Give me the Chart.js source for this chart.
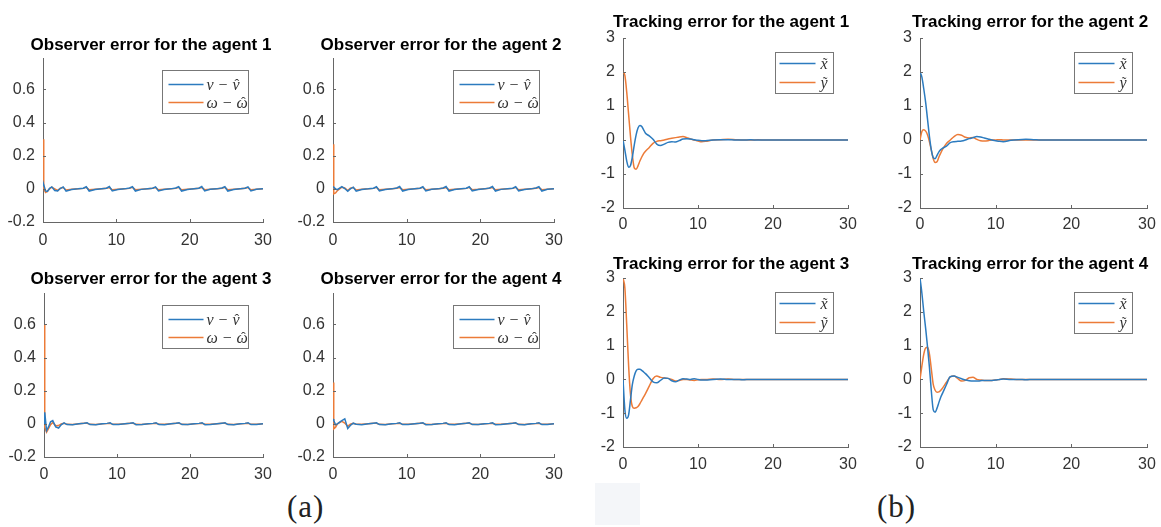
<!DOCTYPE html>
<html>
<head>
<meta charset="utf-8">
<script src="https://cdn.jsdelivr.net/npm/chart.js@4.4.1/dist/chart.umd.min.js"></script>
<style>
  body { margin: 0; background: #fff; width: 1161px; height: 527px; overflow: hidden; position: relative; }
  .panel { position: absolute; }
  .tag { position: absolute; font-family: "Liberation Serif", "DejaVu Serif", serif; font-size: 31px; letter-spacing: 1px; color: #222; line-height: 1; }
  .smudge { position: absolute; left: 595px; top: 483px; width: 45px; height: 42px; background: #f4f6f9; }
</style>
</head>
<body>
<div class="smudge"></div>
<div class="tag" style="left:287px; top:491px;">(a)</div>
<div class="tag" style="left:877px; top:491px;">(b)</div>
<script>
// ---- data ----
const timeTicks = [0, 10, 20, 30];
const obsYTicks = [-0.2, 0, 0.2, 0.4, 0.6];
const trkYTicks = [-2, -1, 0, 1, 2, 3];

const obsTitles = ['Observer error for the agent 1', 'Observer error for the agent 2',
                   'Observer error for the agent 3', 'Observer error for the agent 4'];
const trkTitles = ['Tracking error for the agent 1', 'Tracking error for the agent 2',
                   'Tracking error for the agent 3', 'Tracking error for the agent 4'];
const obsLabels = ['v \u2212 v\u0302', '\u03c9 \u2212 \u03c9\u0302'];
const trkLabels = ['x\u0303', 'y\u0303'];

// observer error time samples
const obsTime = [0, 0.1, 0.35, 0.6, 0.9, 1.2, 1.6, 2.0, 2.35,
  2.75, 3.15, 3.9, 4.8,
  5.5, 5.9, 6.3, 7.1, 8.0,
  8.65, 9.05, 9.45, 10.2, 11.1,
  11.8, 12.2, 12.6, 13.4, 14.3,
  14.95, 15.35, 15.75, 16.5, 17.4,
  18.1, 18.5, 18.9, 19.7, 20.6,
  21.25, 21.65, 22.05, 22.8, 23.7,
  24.4, 24.8, 25.2, 26.0, 26.9,
  27.55, 27.95, 28.35, 29.1, 30];

const obsV1 = [0.02, 0.025, -0.012, -0.015, 0.004, 0.012, -0.01, -0.012, 0.002,
  0.012, -0.014, -0.004, 0.0,
  0.004, 0.013, -0.013, -0.004, 0.001,
  0.004, 0.014, -0.012, -0.004, 0.0,
  0.005, 0.013, -0.013, -0.003, 0.001,
  0.004, 0.012, -0.012, -0.004, 0.0,
  0.005, 0.013, -0.013, -0.004, 0.001,
  0.004, 0.014, -0.012, -0.003, 0.0,
  0.005, 0.013, -0.013, -0.004, 0.001,
  0.004, 0.012, -0.012, -0.003, 0.0];
const obsW1 = [0.3, 0.0, -0.022, -0.015, 0.0, 0.01, 0.0, -0.01, 0.004,
  0.008, -0.007, -0.003, 0.0,
  0.003, 0.009, -0.006, -0.002, 0.001,
  0.003, 0.008, -0.006, -0.003, 0.0,
  0.003, 0.009, -0.005, -0.002, 0.001,
  0.004, 0.008, -0.006, -0.002, 0.0,
  0.003, 0.009, -0.006, -0.003, 0.001,
  0.003, 0.008, -0.005, -0.002, 0.0,
  0.004, 0.009, -0.006, -0.002, 0.001,
  0.003, 0.008, -0.006, -0.002, 0.0];

const obsV2 = [0.015, 0.01, 0.0, -0.005, 0.005, 0.014, 0.002, -0.014, 0.0,
  0.01, -0.014, -0.004, 0.0,
  0.004, 0.013, -0.012, -0.004, 0.0,
  0.005, 0.014, -0.013, -0.004, 0.001,
  0.004, 0.013, -0.012, -0.003, 0.0,
  0.005, 0.014, -0.013, -0.004, 0.001,
  0.004, 0.013, -0.012, -0.004, 0.0,
  0.005, 0.014, -0.013, -0.003, 0.001,
  0.004, 0.013, -0.012, -0.004, 0.0,
  0.005, 0.013, -0.013, -0.003, 0.0];
const obsW2 = [0.27, -0.03, -0.025, -0.01, 0.0, 0.01, 0.005, -0.01, 0.004,
  0.008, -0.007, -0.002, 0.0,
  0.003, 0.009, -0.006, -0.002, 0.001,
  0.003, 0.008, -0.005, -0.003, 0.0,
  0.004, 0.009, -0.006, -0.002, 0.001,
  0.003, 0.008, -0.006, -0.002, 0.0,
  0.003, 0.009, -0.005, -0.003, 0.001,
  0.004, 0.008, -0.006, -0.002, 0.0,
  0.003, 0.009, -0.006, -0.002, 0.001,
  0.003, 0.008, -0.005, -0.002, 0.0];

const obsV3 = [0.0, 0.07, -0.04, -0.02, 0.012, 0.02, -0.018, -0.025, -0.006,
  0.006, -0.004, -0.005, 0.0,
  0.004, 0.007, -0.004, -0.005, 0.0,
  0.003, 0.006, -0.004, -0.004, 0.001,
  0.004, 0.007, -0.005, -0.004, 0.0,
  0.003, 0.006, -0.004, -0.005, 0.001,
  0.004, 0.007, -0.004, -0.004, 0.0,
  0.003, 0.007, -0.005, -0.004, 0.001,
  0.004, 0.006, -0.004, -0.005, 0.0,
  0.003, 0.007, -0.004, -0.004, 0.0];
const obsW3 = [0.6, -0.02, -0.05, -0.03, -0.005, 0.008, -0.012, -0.01, 0.0,
  0.004, -0.003, -0.004, 0.0,
  0.003, 0.004, -0.003, -0.004, 0.0,
  0.002, 0.004, -0.003, -0.003, 0.001,
  0.003, 0.004, -0.003, -0.004, 0.0,
  0.002, 0.004, -0.002, -0.003, 0.001,
  0.003, 0.004, -0.003, -0.004, 0.0,
  0.002, 0.004, -0.003, -0.003, 0.001,
  0.003, 0.004, -0.003, -0.004, 0.0,
  0.002, 0.004, -0.003, -0.003, 0.0];

const obsV4 = [0.03, 0.02, -0.005, 0.0, 0.01, 0.02, 0.03, -0.028, -0.01,
  0.004, -0.002, -0.005, 0.0,
  0.004, 0.006, -0.004, -0.005, 0.0,
  0.003, 0.006, -0.004, -0.004, 0.001,
  0.004, 0.007, -0.005, -0.004, 0.0,
  0.003, 0.006, -0.004, -0.005, 0.001,
  0.004, 0.007, -0.004, -0.004, 0.0,
  0.003, 0.006, -0.005, -0.004, 0.001,
  0.004, 0.007, -0.004, -0.005, 0.0,
  0.003, 0.006, -0.004, -0.004, 0.0];
const obsW4 = [0.25, -0.03, -0.02, 0.0, 0.008, 0.015, 0.005, -0.015, -0.002,
  0.004, -0.003, -0.003, 0.0,
  0.003, 0.004, -0.003, -0.004, 0.0,
  0.002, 0.004, -0.003, -0.003, 0.001,
  0.003, 0.004, -0.003, -0.004, 0.0,
  0.002, 0.004, -0.002, -0.003, 0.001,
  0.003, 0.004, -0.003, -0.004, 0.0,
  0.002, 0.004, -0.003, -0.003, 0.001,
  0.003, 0.004, -0.003, -0.004, 0.0,
  0.002, 0.004, -0.003, -0.003, 0.0];

// tracking error time samples
const trkTime = [0, 0.25, 0.5, 0.75, 1, 1.25, 1.5, 1.75, 2, 2.25, 2.5, 2.75, 3,
  3.5, 4, 4.5, 5, 5.5, 6, 6.5, 7, 7.5, 8, 8.5, 9, 9.5, 10,
  10.5, 11, 12, 13, 14, 15, 16, 17, 18, 19, 20,
  22, 24, 26, 28, 30];

const trkX1 = [0, -0.3, -0.62, -0.8, -0.75, -0.5, -0.15, 0.15, 0.35, 0.43, 0.4, 0.3, 0.2,
  0.12, 0.02, -0.12, -0.16, -0.12, -0.07, -0.05, -0.06, -0.02, 0.03, 0.04, 0.03, 0.01, -0.01,
  -0.02, -0.02, 0.0, 0.01, 0.01, 0.0, 0.0, 0.005, 0.0, 0.0, 0.0,
  0, 0, 0, 0, 0];
const trkY1 = [2.0, 1.9, 1.4, 0.75, 0.1, -0.45, -0.82, -0.86, -0.76, -0.62, -0.5, -0.4, -0.33,
  -0.22, -0.1, -0.04, -0.02, 0.0, 0.03, 0.05, 0.07, 0.09, 0.1, 0.07, 0.03, 0.0, -0.03,
  -0.05, -0.04, 0.0, 0.01, 0.02, 0.01, 0.0, 0.0, 0.005, 0.0, 0.0,
  0, 0, 0, 0, 0];

const trkX2 = [2.0, 1.85, 1.5, 1.1, 0.6, 0.1, -0.3, -0.52, -0.55, -0.45, -0.35, -0.28, -0.24,
  -0.18, -0.08, -0.05, -0.04, -0.03, 0.0, 0.04, 0.07, 0.1, 0.09, 0.06, 0.03, 0.0, -0.02,
  -0.04, -0.05, -0.01, 0.01, 0.02, 0.01, 0.0, 0.0, 0.0, 0.0, 0.0,
  0, 0, 0, 0, 0];
const trkY2 = [0.0, 0.25, 0.3, 0.26, 0.15, -0.05, -0.3, -0.55, -0.66, -0.64, -0.5, -0.38, -0.27,
  -0.1, 0.0, 0.1, 0.16, 0.14, 0.08, 0.06, 0.07, 0.02, -0.02, -0.03, -0.02, 0.0, 0.0,
  0.01, 0.0, 0.0, 0.0, 0.0, 0.0, 0.0, 0.0, 0.0, 0.0, 0.0,
  0, 0, 0, 0, 0];

const trkX3 = [0, -0.9, -1.15, -1.05, -0.6, -0.15, 0.1, 0.25, 0.3, 0.3, 0.27, 0.22, 0.17,
  0.05, -0.07, -0.1, -0.03, 0.04, 0.03, -0.04, -0.07, -0.02, 0.02, 0.01, 0.0, 0.02, 0.0,
  -0.02, -0.02, 0.0, 0.01, 0.0, 0.0, -0.01, 0.0, 0.0, 0.0, 0.0,
  0, 0, 0, 0, 0];
const trkY3 = [3.0, 2.7, 1.6, 0.4, -0.45, -0.8, -0.85, -0.84, -0.8, -0.72, -0.62, -0.52, -0.42,
  -0.2, 0.02, 0.1, 0.06, 0.04, 0.03, 0.0, -0.05, -0.03, 0.0, 0.0, -0.02, -0.03, -0.01,
  0.0, 0.0, 0.01, 0.0, 0.01, 0.0, 0.0, 0.0, 0.0, 0.0, 0.0,
  0, 0, 0, 0, 0];

const trkX4 = [3.0, 2.55, 2.0, 1.5, 0.95, 0.35, -0.35, -0.9, -0.97, -0.85, -0.68, -0.52, -0.4,
  -0.15, 0.08, 0.1, 0.06, 0.02, -0.02, -0.04, -0.05, -0.05, -0.04, -0.03, -0.03, -0.03, -0.02,
  0.0, 0.01, 0.0, 0.0, -0.01, 0.0, 0.0, 0.0, 0.0, 0.0, 0.0,
  0, 0, 0, 0, 0];
const trkY4 = [0.0, 0.4, 0.75, 0.93, 0.95, 0.75, 0.3, -0.15, -0.32, -0.38, -0.37, -0.32, -0.25,
  -0.08, 0.07, 0.1, 0.02, -0.05, -0.03, 0.05, 0.06, 0.0, -0.02, -0.03, -0.03, -0.03, -0.02,
  0.0, 0.02, 0.01, 0.0, 0.0, 0.0, 0.0, 0.0, 0.0, 0.0, 0.0,
  0, 0, 0, 0, 0];

// ---- look ----
const blue = '#2c7bbf';
const orange = '#ec7b38';
const axisColor = '#666';
const tickColor = '#333';
const accents = { '\u0302': '\u02c6', '\u0303': '\u02dc' };

Chart.defaults.font.family = '"Liberation Sans", Arial, sans-serif';

// matlab style ticks pointing into the axes
const inwardTicks = {
  id: 'inwardTicks',
  afterDatasetsDraw(chart) {
    const { ctx, chartArea, scales } = chart;
    ctx.save();
    ctx.strokeStyle = axisColor;
    ctx.lineWidth = 1;
    ctx.beginPath();
    scales.x.ticks.forEach(t => {
      const px = Math.round(scales.x.getPixelForValue(t.value)) + 0.5;
      ctx.moveTo(px, chartArea.bottom);
      ctx.lineTo(px, chartArea.bottom - 3);
    });
    scales.y.ticks.forEach(t => {
      const py = Math.round(scales.y.getPixelForValue(t.value)) + 0.5;
      ctx.moveTo(chartArea.left, py);
      ctx.lineTo(chartArea.left + 3, py);
    });
    ctx.stroke();
    ctx.restore();
  }
};

// panel title, a bit left of the axes centre like the matlab export
const panelTitle = {
  id: 'panelTitle',
  afterDraw(chart, args, opts) {
    const { ctx, chartArea } = chart;
    ctx.save();
    ctx.font = 'bold 17px "Liberation Sans", Arial, sans-serif';
    ctx.fillStyle = '#000';
    ctx.textAlign = 'center';
    ctx.textBaseline = 'middle';
    ctx.fillText(opts.text, (chartArea.left + chartArea.right) / 2 + opts.dx, opts.y);
    ctx.restore();
  }
};

// boxed legend in the upper right corner
const boxLegend = {
  id: 'boxLegend',
  afterDraw(chart, args, opts) {
    const { ctx, chartArea } = chart;
    const x0 = Math.round(chartArea.right - 15 - opts.width) + 0.5;
    const y0 = Math.round(chartArea.top + opts.top) + 0.5;
    ctx.save();
    ctx.fillStyle = '#fff';
    ctx.fillRect(x0, y0, opts.width, opts.height);
    ctx.strokeStyle = '#777';
    ctx.lineWidth = 1;
    ctx.strokeRect(x0, y0, opts.width, opts.height);
    chart.data.datasets.forEach((ds, i) => {
      const yy = y0 + opts.rowTop + i * opts.rowGap;
      ctx.strokeStyle = ds.borderColor;
      ctx.lineWidth = 1.5;
      ctx.beginPath();
      ctx.moveTo(x0 + opts.lineFrom, yy);
      ctx.lineTo(x0 + opts.lineTo, yy);
      ctx.stroke();

      // label text; a combining accent is drawn by hand over the last letter
      let text = ds.label;
      let accent = null;
      if (accents[text.slice(-1)]) {
        accent = accents[text.slice(-1)];
        text = text.slice(0, -1);
      }
      const tx = x0 + opts.textX;
      const base = yy + 5;
      ctx.fillStyle = '#333';
      ctx.font = 'italic 16px "Liberation Serif", "DejaVu Serif", serif';
      ctx.textAlign = 'left';
      ctx.textBaseline = 'alphabetic';
      ctx.fillText(text, tx, base);
      if (accent) {
        const wAll = ctx.measureText(text).width;
        const wLast = ctx.measureText(text.slice(-1)).width;
        ctx.font = '14px "Liberation Serif", "DejaVu Serif", serif';
        ctx.textAlign = 'center';
        ctx.fillText(accent, tx + wAll - wLast / 2 + 1, base - 1);
      }
    });
    ctx.restore();
  }
};

function addPanel(g, times, series, labels, title, yTicks, yMin, yMax, legend, smooth) {
  const cl = g.l - g.yw;
  const ct = g.ty - 14;
  const padR = 22;
  const width = g.r - cl + padR;
  const xh = 28;
  const height = g.b - ct + xh;

  const div = document.createElement('div');
  div.className = 'panel';
  div.style.left = cl + 'px';
  div.style.top = ct + 'px';
  const cv = document.createElement('canvas');
  cv.width = width;
  cv.height = height;
  cv.style.width = width + 'px';
  cv.style.height = height + 'px';
  div.appendChild(cv);
  document.body.appendChild(div);

  const colors = [blue, orange];

  new Chart(cv, {
    type: 'line',
    data: {
      datasets: series.map((s, i) => ({
        label: labels[i],
        data: times.map((t, k) => ({ x: t, y: s[k] })),
        borderColor: colors[i],
        backgroundColor: colors[i],
        borderWidth: 1.5,
        pointRadius: 0,
        tension: 0,
        cubicInterpolationMode: smooth ? 'monotone' : 'default'
      }))
    },
    options: {
      responsive: false,
      animation: false,
      layout: { autoPadding: false, padding: { left: 0, top: g.t - ct, bottom: 0, right: padR } },
      plugins: {
        legend: { display: false },
        tooltip: { enabled: false },
        title: { display: false },
        panelTitle: { text: title, dx: g.tx - (g.l + g.r) / 2, y: g.ty - ct },
        boxLegend: legend
      },
      scales: {
        x: {
          type: 'linear',
          min: 0,
          max: 30,
          grid: { display: false, drawTicks: false },
          border: { display: true, color: axisColor, width: 1 },
          ticks: { color: tickColor, font: { size: 16 }, padding: g.xp, maxRotation: 0, autoSkip: false, callback: v => String(v) },
          afterBuildTicks: s => { s.ticks = timeTicks.map(v => ({ value: v })); },
          afterFit: s => { s.height = xh; }
        },
        y: {
          min: yMin,
          max: yMax,
          grid: { display: false, drawTicks: false },
          border: { display: true, color: axisColor, width: 1 },
          ticks: { color: tickColor, font: { size: 16 }, padding: 8, autoSkip: false, callback: v => String(v) },
          afterBuildTicks: s => { s.ticks = yTicks.map(v => ({ value: v })); },
          afterFit: s => { s.width = g.yw; }
        }
      }
    },
    plugins: [inwardTicks, panelTitle, boxLegend]
  });
}

const obsLegend = { width: 86, height: 43, top: 12, rowTop: 14, rowGap: 18, lineFrom: 6, lineTo: 41, textX: 44 };
const trkLegend = { width: 58, height: 41, top: 14, rowTop: 11, rowGap: 19, lineFrom: 4, lineTo: 40, textX: 45 };

const obsGeo = [
  { l: 43, t: 58, r: 263, b: 222, tx: 151, ty: 45, yw: 43, xp: 9 },
  { l: 333, t: 58, r: 554, b: 222, tx: 441, ty: 45, yw: 43, xp: 9 },
  { l: 44, t: 293, r: 263, b: 457, tx: 151, ty: 279, yw: 44, xp: 8 },
  { l: 333, t: 293, r: 554, b: 457, tx: 441, ty: 279, yw: 43, xp: 8 }
];
const trkGeo = [
  { l: 623, t: 38, r: 848, b: 208, tx: 731, ty: 22, yw: 32, xp: 7 },
  { l: 920, t: 38, r: 1147, b: 208, tx: 1030, ty: 22, yw: 32, xp: 7 },
  { l: 623, t: 278, r: 848, b: 447, tx: 731, ty: 264, yw: 32, xp: 8 },
  { l: 920, t: 278, r: 1147, b: 447, tx: 1030, ty: 264, yw: 32, xp: 8 }
];

const obsSeries = [[obsV1, obsW1], [obsV2, obsW2], [obsV3, obsW3], [obsV4, obsW4]];
const trkSeries = [[trkX1, trkY1], [trkX2, trkY2], [trkX3, trkY3], [trkX4, trkY4]];

obsSeries.forEach((s, i) => addPanel(obsGeo[i], obsTime, s, obsLabels, obsTitles[i], obsYTicks, -0.2, 0.79, obsLegend, false));
trkSeries.forEach((s, i) => addPanel(trkGeo[i], trkTime, s, trkLabels, trkTitles[i], trkYTicks, -2, 3, trkLegend, true));
</script>
</body>
</html>
